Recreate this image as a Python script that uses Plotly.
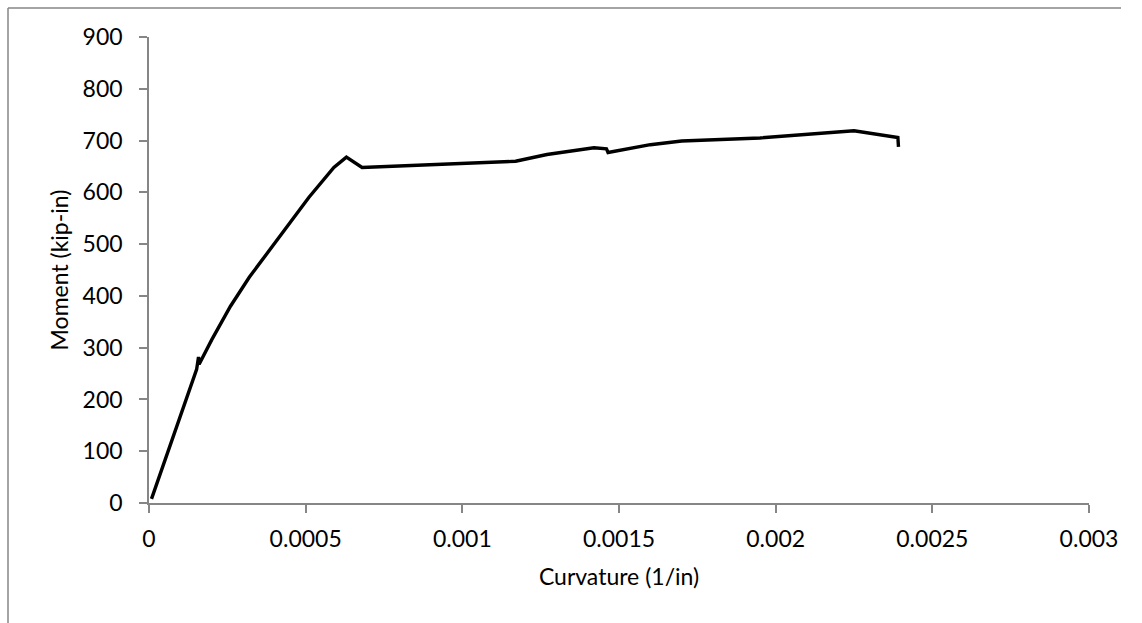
import plotly.graph_objects as go

# Data
curvature = [0.000008, 0.000152, 0.000158, 0.000160, 0.00020, 0.00026, 0.00032,
             0.00040, 0.00051, 0.00059, 0.00063, 0.00068, 0.00117, 0.00127,
             0.00142, 0.00146, 0.001465, 0.00160, 0.00170, 0.00195, 0.00225,
             0.00239, 0.002392]
moment = [8, 258, 282, 268, 315, 380, 436,
          500, 590, 648, 668, 648, 660, 673,
          686, 684, 677, 692, 699, 705, 719,
          706, 688]

x_tickvals = [0, 0.0005, 0.001, 0.0015, 0.002, 0.0025, 0.003]
x_ticktext = ["0", "0.0005", "0.001", "0.0015", "0.002", "0.0025", "0.003"]
y_tickvals = [0, 100, 200, 300, 400, 500, 600, 700, 800, 900]

W, H = 1142, 623
L, R, T, B = 149, 53, 37, 120
pw, ph = W - L - R, H - T - B

FONT = "Lato"
FS = 23
AXC = "#868686"

fig = go.Figure()
fig.add_trace(go.Scatter(x=curvature, y=moment, mode="lines",
                         line=dict(color="black", width=3.4),
                         showlegend=False, hoverinfo="skip"))

def px_x(p):
    return (p - L) / pw

def px_y(p):
    return (H - B - p) / ph

fig.update_layout(
    width=W, height=H, autosize=False,
    margin=dict(l=L, r=R, t=T, b=B),
    paper_bgcolor="white", plot_bgcolor="white",
    font=dict(family=FONT, size=FS, color="black"),
    xaxis=dict(range=[0, 0.003], tickvals=x_tickvals, ticktext=x_ticktext,
               showgrid=False, zeroline=False, showline=True, linecolor=AXC,
               linewidth=1.5, ticks="outside", ticklen=8, tickcolor=AXC,
               tickwidth=1.5, tickfont=dict(size=FS), ticklabelstandoff=7,
               title=dict(text="Curvature (1/in)", font=dict(size=FS), standoff=18)),
    yaxis=dict(range=[0, 900], tickvals=y_tickvals,
               showgrid=False, zeroline=False, showline=True, linecolor=AXC,
               linewidth=1.5, ticks="outside", ticklen=8, tickcolor=AXC,
               tickwidth=1.5, tickfont=dict(size=FS), ticklabelstandoff=12,
               title=dict(text="Moment (kip-in)", font=dict(size=FS), standoff=8)),
    shapes=[
        dict(type="line", xref="paper", yref="paper",
             x0=px_x(8), x1=px_x(1121), y0=px_y(8), y1=px_y(8),
             line=dict(color=AXC, width=1.5)),
        dict(type="line", xref="paper", yref="paper",
             x0=px_x(8), x1=px_x(8), y0=px_y(8), y1=px_y(623),
             line=dict(color=AXC, width=1.5)),
    ],
)

fig.write_html("out.html")
